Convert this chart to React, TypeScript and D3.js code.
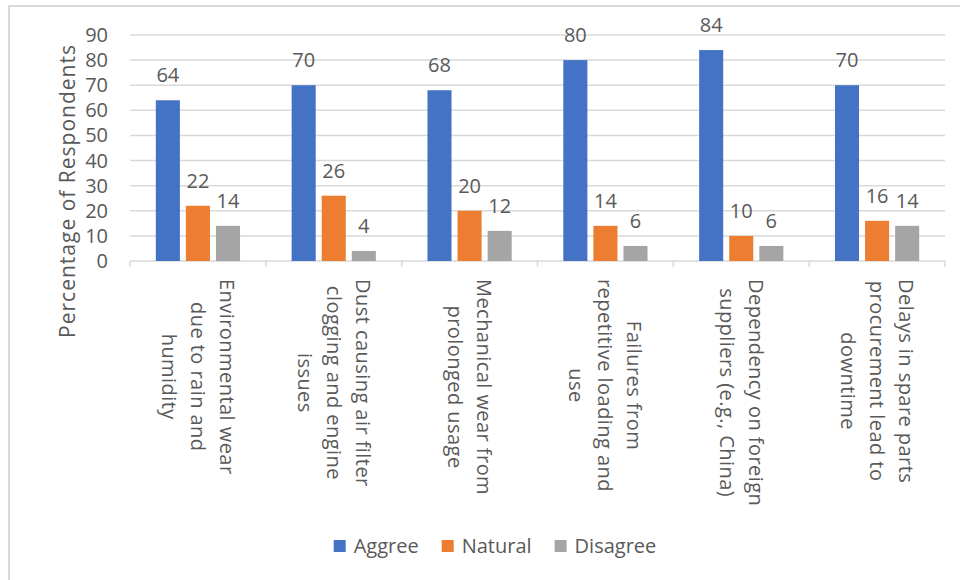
import React from "react";
import * as d3 from "d3";

const categoryLines: string[][] = [
  ["Environmental wear", "due to rain and", "humidity"],
  ["Dust causing air filter", "clogging and engine", "issues"],
  ["Mechanical wear from", "prolonged usage"],
  ["Failures from", "repetitive loading and", "use"],
  ["Dependency on foreign", "suppliers (e.g., China)"],
  ["Delays in spare parts", "procurement lead to", "downtime"],
];
const seriesNames = ["Aggree", "Natural", "Disagree"];
const aggree = [64, 70, 68, 80, 84, 70];
const natural = [22, 26, 20, 14, 10, 16];
const disagree = [14, 4, 12, 6, 6, 14];
const seriesColors = ["#4472C4", "#ED7D31", "#A5A5A5"];
const yTicks = [0, 10, 20, 30, 40, 50, 60, 70, 80, 90];
const yTitle = "Percentage of Respondents";

const FONT = '"Open Sans", "Noto Sans", sans-serif';
const TEXT = "#595959";
const GRID = "#d9d9d9";

let ctx: CanvasRenderingContext2D | null = null;
function measure(t: string, size: number, ls = 0) {
  if (!ctx) ctx = document.createElement("canvas").getContext("2d");
  if (!ctx) return t.length * size * 0.55;
  ctx.font = `${size}px "Open Sans"`;
  return ctx.measureText(t).width + ls * t.length;
}

export default function App() {
  const W = 960, H = 580;
  const left = 130, right = 945, top = 35, bottom = 261;
  const catIdx = categoryLines.map((_, i) => i);
  const x = d3.scaleBand<number>().domain(catIdx).range([left, right]).paddingInner(0.38).paddingOuter(0.19);
  const xs = d3.scaleBand<number>().domain([0, 1, 2]).range([0, x.bandwidth()]).paddingInner(0.2);
  const y = d3.scaleLinear().domain([0, 90]).range([bottom, top]);
  const series = [aggree, natural, disagree];
  const step = x.step();
  const boundaries = d3.range(categoryLines.length + 1).map((i) => left + i * step);

  const numFont = 20;
  const catFont = 20;
  const catLS = 0.45;
  const lineGap = 29;
  const labelTop = 279;

  const legFont = 20;
  const sq = 12;
  const sqGap = 8;
  const itemW = seriesNames.map((n) => sq + sqGap + measure(n, legFont));
  const legGap = 23;
  const legTotal = d3.sum(itemW) + legGap * (seriesNames.length - 1);
  const legCenter = 495;
  let lx = legCenter - legTotal / 2;
  const legX = itemW.map((w) => {
    const v = lx;
    lx += w + legGap;
    return v;
  });
  const legY = 546;

  return (
    <div style={{ position: "fixed", left: 0, top: 0, width: W, height: H, background: "#fff" }}>
      <svg width={W} height={H} style={{ display: "block", fontFamily: FONT }}>
        <rect x={0} y={0} width={W} height={H} fill="#fff" />
        <rect x={9} y={6} width={1000} height={700} fill="none" stroke={GRID} strokeWidth={2} />
        {yTicks.map((t) => (
          <g key={t}>
            <line x1={left} x2={right} y1={y(t)} y2={y(t)} stroke={GRID} strokeWidth={1.5} />
            <text x={108} y={y(t)} dy="0.35em" textAnchor="end" fontSize={numFont} fill={TEXT}>
              {t}
            </text>
          </g>
        ))}
        {boundaries.map((b, i) => (
          <line key={i} x1={b} x2={b} y1={bottom} y2={bottom + 6} stroke={GRID} strokeWidth={1.5} />
        ))}
        <text
          transform={`translate(${68},${191}) rotate(-90)`}
          textAnchor="middle"
          dy="0.35em"
          fontSize={21}
          letterSpacing={1}
          fill={TEXT}
        >
          {yTitle}
        </text>
        {catIdx.map((ci) => (
          <g key={ci}>
            {series.map((s, si) => {
              const bx = (x(ci) as number) + (xs(si) as number);
              const bw = xs.bandwidth();
              return (
                <g key={si}>
                  <rect x={bx} y={y(s[ci])} width={bw} height={bottom - y(s[ci])} fill={seriesColors[si]} />
                  <text x={bx + bw / 2} y={y(s[ci]) - 18} textAnchor="middle" fontSize={numFont} fill={TEXT}>
                    {s[ci]}
                  </text>
                </g>
              );
            })}
          </g>
        ))}
        {categoryLines.map((lines, ci) => {
          const cx = (x(ci) as number) + x.bandwidth() / 2;
          const maxW = d3.max(lines, (l) => measure(l, catFont, catLS)) || 0;
          const cy = labelTop + maxW / 2;
          const n = lines.length;
          return (
            <g key={ci} transform={`translate(${cx},${cy}) rotate(90)`}>
              {lines.map((l, li) => (
                <text
                  key={li}
                  x={0}
                  y={(li - (n - 1) / 2) * lineGap}
                  dy="0.35em"
                  textAnchor="middle"
                  fontSize={catFont}
                  letterSpacing={catLS}
                  fill={TEXT}
                >
                  {l}
                </text>
              ))}
            </g>
          );
        })}
        {seriesNames.map((n, i) => (
          <g key={n}>
            <rect x={legX[i]} y={legY - sq / 2} width={sq} height={sq} fill={seriesColors[i]} />
            <text x={legX[i] + sq + sqGap} y={legY} dy="0.35em" fontSize={legFont} fill={TEXT}>
              {n}
            </text>
          </g>
        ))}
      </svg>
    </div>
  );
}
